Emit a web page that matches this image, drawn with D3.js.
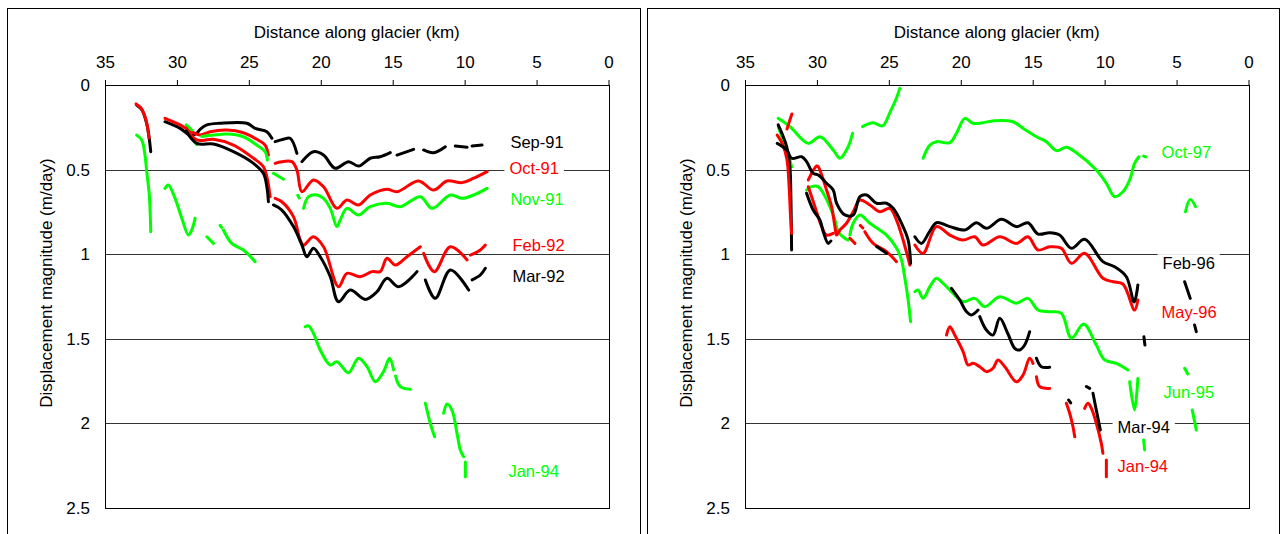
<!DOCTYPE html>
<html>
<head>
<meta charset="utf-8">
<script src="https://cdn.jsdelivr.net/npm/d3@7"></script>
<style>
  body { margin: 0; background: #fff; }
  text { font-family: "Liberation Sans", Arial, sans-serif; }
</style>
</head>
<body>
<script>
// axis ticks
var xTicks = [35, 30, 25, 20, 15, 10, 5, 0];
var yTicks = [0, 0.5, 1, 1.5, 2, 2.5];
var gridVals = [0.5, 1, 1.5, 2];

// left panel series: [km, m/day], null = gap
var sep91 = [[32.80,0.118],[32.43,0.148],[32.08,0.236],[31.82,0.394], null,
  [30.83,0.217],[29.78,0.256],[29.09,0.296],[28.62,0.285],[28.39,0.262],[27.92,0.236],[27.00,0.226],[25.14,0.226],[24.56,0.256],[23.75,0.276],[23.40,0.315], null,
  [23.17,0.335],[22.59,0.321],[22.13,0.315],[21.66,0.404], null,
  [21.31,0.453],[20.51,0.394],[19.81,0.414],[19.00,0.492],[18.07,0.453],[17.38,0.479],[16.56,0.433],[15.87,0.424],[15.17,0.400], null,
  [14.70,0.414],[13.55,0.380], null,
  [12.85,0.384],[12.16,0.400],[11.34,0.365], null,
  [10.65,0.361],[9.83,0.368], null,
  [9.48,0.361],[8.79,0.355]];
var oct91 = [[32.84,0.112],[32.50,0.136],[32.15,0.207],[31.94,0.313], null,
  [30.83,0.197],[29.78,0.236],[28.97,0.276],[28.39,0.296],[27.69,0.276],[26.53,0.266],[25.38,0.282],[24.45,0.321],[23.87,0.355],[23.64,0.414], null,
  [23.17,0.463],[22.71,0.453],[22.01,0.453],[21.66,0.502],[21.31,0.631],[20.51,0.561],[19.81,0.601],[18.88,0.729],[18.18,0.680],[17.38,0.709],[16.56,0.650],[15.40,0.616],[14.70,0.631],[13.20,0.567],[12.16,0.621],[11.22,0.567],[10.18,0.577],[9.37,0.551],[8.44,0.512]];
var nov91 = [[29.36,0.236],[28.97,0.266], null,
  [28.74,0.340],[28.62,0.352], null,
  [28.27,0.305],[27.46,0.296],[26.53,0.290],[25.38,0.306],[24.45,0.355],[23.87,0.394],[23.71,0.443], null,
  [23.29,0.522],[22.59,0.557], null,
  [21.60,0.652],[21.50,0.668], null,
  [21.20,0.729],[20.85,0.660],[20.27,0.650],[19.81,0.670],[19.34,0.729],[18.88,0.837],[18.65,0.798],[18.18,0.729],[17.38,0.768],[16.56,0.719],[15.40,0.699],[14.47,0.719],[13.08,0.660],[12.27,0.729],[10.99,0.650],[10.18,0.670],[9.37,0.650],[8.44,0.611]];
var feb92 = [[29.36,0.254],[28.62,0.325],[27.46,0.321],[26.07,0.355],[24.68,0.433],[23.99,0.483],[23.75,0.542],[23.52,0.660], null,
  [23.17,0.670],[22.71,0.690],[21.90,0.778],[21.43,0.916],[21.20,0.946],[20.51,0.897],[19.81,0.956],[18.77,1.192],[18.18,1.113],[17.26,1.133],[16.44,1.103],[15.87,1.103],[15.40,1.024],[14.82,1.064],[14.01,1.015],[13.08,0.956], null,
  [12.85,0.995],[12.11,1.103],[10.99,0.956],[9.83,1.034], null,
  [9.60,1.005],[8.91,0.975],[8.56,0.946]];
var mar92 = [[29.36,0.272],[28.62,0.345],[27.46,0.349],[26.07,0.394],[24.68,0.463],[23.99,0.522],[23.75,0.601],[23.64,0.690], null,
  [23.29,0.709],[22.71,0.739],[21.90,0.837],[21.31,0.946],[20.97,1.015],[20.51,0.965],[20.04,1.015],[19.34,1.133],[18.77,1.281],[17.95,1.212],[16.91,1.267],[16.10,1.222],[15.40,1.142],[14.59,1.192],[13.31,1.103], null,
  [12.73,1.152],[12.04,1.261],[10.99,1.093],[9.72,1.212], null,
  [9.48,1.152],[8.91,1.123],[8.56,1.083]];
var jan94L = [[32.80,0.296],[32.45,0.325],[32.22,0.414],[32.10,0.512],[31.92,0.650],[31.82,0.867], null,
  [30.83,0.611],[30.60,0.591],[30.13,0.670],[29.66,0.788],[29.20,0.887],[28.97,0.857],[28.74,0.788], null,
  [27.92,0.897],[27.46,0.936], null,
  [27.00,0.830],[26.90,0.842], null,
  [26.77,0.857],[26.19,0.936],[25.38,0.975],[24.56,1.044], null,
  [21.08,1.429],[20.85,1.424],[20.51,1.467],[20.04,1.566],[19.34,1.655],[18.88,1.635],[18.07,1.700],[17.38,1.615],[16.79,1.665],[16.21,1.754],[15.64,1.694],[15.22,1.615],[14.94,1.684], null,
  [14.80,1.720],[14.47,1.783],[13.78,1.798], null,
  [12.73,1.881],[12.39,1.999],[12.09,2.079], null,
  [11.46,1.940],[11.22,1.885],[10.88,1.921],[10.53,2.059],[10.30,2.157],[10.07,2.197], null,
  [9.95,2.228],[9.95,2.315]];

// right panel series
var oct97 = [[32.69,0.197],[31.88,0.246],[30.60,0.345],[29.79,0.306],[28.87,0.384],[28.40,0.433],[27.83,0.365],[27.52,0.285], null,
  [26.83,0.246],[26.09,0.223],[25.44,0.242],[24.93,0.163],[24.47,0.077],[24.24,0.020], null,
  [22.62,0.433],[22.15,0.355],[21.69,0.335],[20.76,0.341],[20.30,0.285],[19.72,0.197],[19.15,0.226],[18.68,0.226],[17.64,0.211],[16.37,0.217],[15.67,0.256],[14.74,0.306],[14.05,0.335],[13.35,0.388],[12.66,0.368],[11.97,0.400],[10.58,0.502],[9.88,0.581],[9.31,0.660],[8.73,0.631],[8.26,0.561],[7.92,0.463],[7.62,0.424], null,
  [7.29,0.420],[7.15,0.425], null,
  [4.38,0.749],[4.05,0.676],[3.68,0.719]];
var feb96 = [[32.76,0.345],[32.10,0.384],[31.76,0.433],[31.06,0.424],[30.72,0.453],[30.26,0.522],[29.91,0.532],[29.33,0.581],[28.87,0.621],[28.63,0.699],[28.06,0.768],[27.48,0.768],[27.01,0.660],[26.55,0.650],[25.85,0.699],[25.16,0.699],[24.70,0.729],[24.12,0.817],[23.66,0.916],[23.49,1.054], null,
  [23.19,0.897],[22.73,0.936],[22.15,0.863],[21.69,0.814],[20.76,0.837],[19.72,0.857],[18.91,0.814],[18.22,0.847],[17.17,0.794],[16.13,0.837],[15.33,0.814],[14.63,0.881],[13.82,0.873],[13.13,0.887],[12.31,0.965],[11.39,0.912],[10.12,1.044],[9.31,1.074],[8.49,1.133],[7.95,1.283],[7.69,1.182], null,
  [7.27,1.488],[7.20,1.537], null,
  [4.44,1.163],[4.05,1.261], null,
  [3.75,1.418],[3.63,1.458]];
var may96 = [[32.08,0.260],[31.88,0.207],[31.74,0.171], null,
  [32.76,0.296],[32.36,0.355],[32.08,0.443],[31.94,0.591],[31.84,0.768],[31.76,0.877], null,
  [30.60,0.561],[30.02,0.479],[29.91,0.483],[29.67,0.532],[29.33,0.621],[28.98,0.719],[28.75,0.837],[28.63,0.887],[28.40,0.857],[27.94,0.817],[27.48,0.749],[27.01,0.680],[26.32,0.709],[25.63,0.749],[24.93,0.729],[24.47,0.798],[24.01,0.916],[23.54,1.064], null,
  [23.19,0.946],[22.62,0.995],[21.69,0.837],[20.76,0.887],[19.84,0.916],[19.03,0.897],[18.45,0.946],[17.29,0.897],[16.13,0.936],[15.33,0.897],[14.63,0.975],[13.82,0.956],[13.01,0.965],[12.31,1.054],[11.39,0.995],[10.12,1.142],[9.42,1.163],[8.73,1.176],[7.92,1.330],[7.69,1.271]];
var jun95 = [[32.69,0.246],[32.36,0.325],[32.08,0.384],[31.88,0.443],[31.76,0.483], null,
  [30.72,0.621],[30.37,0.601],[29.91,0.601],[29.56,0.640],[29.10,0.719],[28.75,0.798],[28.52,0.867],[28.06,0.906],[27.83,0.916], null,
  [27.71,0.887],[27.48,0.817],[27.01,0.768],[26.32,0.817],[25.16,0.887],[24.47,0.963],[24.12,1.034],[23.89,1.141],[23.66,1.271],[23.49,1.399], null,
  [23.19,1.222],[22.97,1.212],[22.62,1.261],[22.15,1.192],[21.69,1.142],[21.34,1.163],[20.76,1.212],[19.84,1.281],[19.03,1.261],[18.33,1.310],[17.29,1.251],[16.13,1.290],[15.33,1.261],[14.63,1.330],[13.82,1.340],[13.01,1.349],[12.31,1.497],[11.46,1.413],[10.58,1.537],[10.00,1.625],[9.19,1.645],[8.38,1.684], null,
  [8.26,1.754],[7.92,1.921],[7.69,1.734], null,
  [7.29,2.098],[7.22,2.157], null,
  [4.44,1.674],[4.22,1.708], null,
  [3.91,1.921],[3.63,2.039]];
var mar94 = [[32.69,0.236],[32.34,0.306],[32.10,0.365],[31.88,0.483],[31.81,0.660],[31.76,0.975], null,
  [30.72,0.640],[30.26,0.739],[29.79,0.798],[29.56,0.867],[29.22,0.936],[29.03,0.922], null,
  [25.85,0.955],[25.16,0.995], null,
  [20.65,1.202],[20.07,1.271],[19.60,1.340],[19.26,1.359],[18.80,1.330], null,
  [18.68,1.369],[18.22,1.448],[17.76,1.478],[17.29,1.379],[16.74,1.467],[16.25,1.556],[15.90,1.566],[15.56,1.537],[15.21,1.458], null,
  [14.74,1.615],[14.40,1.665],[13.82,1.668], null,
  [12.50,1.862],[12.36,1.879], null,
  [11.27,1.782],[11.04,1.793], null,
  [10.81,1.822],[10.58,1.921],[10.30,2.039]];
var jan94R = [[30.60,0.601],[30.14,0.719],[29.67,0.837],[29.33,0.887],[28.87,0.877], null,
  [27.71,0.906],[27.36,0.936], null,
  [26.98,0.830],[26.81,0.845], null,
  [26.67,0.867],[26.09,0.936],[25.16,0.985],[24.47,1.044], null,
  [20.99,1.478],[20.76,1.429],[20.42,1.478],[19.84,1.576],[19.49,1.655],[19.15,1.645],[18.68,1.665],[18.22,1.694],[17.76,1.674],[17.41,1.625],[16.94,1.665],[16.13,1.754],[15.67,1.714],[15.21,1.615],[14.98,1.645], null,
  [14.74,1.724],[14.51,1.783],[13.82,1.793], null,
  [12.66,1.881],[12.43,1.940],[12.20,2.020],[12.08,2.079], null,
  [11.39,1.911],[11.16,1.881],[10.92,1.911],[10.58,1.999],[10.23,2.118],[10.12,2.177], null,
  [9.88,2.216],[9.88,2.315]];

var RED = "#ff0000", GREEN = "#00ff00", BLACK = "#000000";

var leftSeries = [
  {name: "Sep-91", data: sep91, color: BLACK},
  {name: "Oct-91", data: oct91, color: RED},
  {name: "Nov-91", data: nov91, color: GREEN},
  {name: "Feb-92", data: feb92, color: RED},
  {name: "Mar-92", data: mar92, color: BLACK},
  {name: "Jan-94", data: jan94L, color: GREEN}
];
var rightSeries = [
  {name: "Oct-97", data: oct97, color: GREEN},
  {name: "Jun-95", data: jun95, color: GREEN},
  {name: "Jan-94", data: jan94R, color: RED},
  {name: "Mar-94", data: mar94, color: BLACK},
  {name: "May-96", data: may96, color: RED},
  {name: "Feb-96", data: feb96, color: BLACK}
];

// where each series label sits (km, m/day)
var leftLabelPos = {"Sep-91": [6.82, 0.341], "Oct-91": [6.89, 0.492], "Nov-91": [6.82, 0.674],
  "Feb-92": [6.68, 0.946], "Mar-92": [6.68, 1.133], "Jan-94": [6.96, 2.285]};
var rightLabelPos = {"Oct-97": [6.04, 0.400], "Feb-96": [5.97, 1.054], "May-96": [6.04, 1.343],
  "Jun-95": [5.90, 1.813], "Mar-94": [9.10, 2.020], "Jan-94": [9.10, 2.256]};

var w = 1282, h = 534;
var svg = d3.select("body").append("svg")
  .attr("width", w)
  .attr("height", h);

// panel frames
svg.append("rect").attr("x", 7.5).attr("y", 8.5).attr("width", 633).attr("height", 540)
  .attr("fill", "none").attr("stroke", "#000");
svg.append("rect").attr("x", 647.5).attr("y", 8.5).attr("width", 632).attr("height", 540)
  .attr("fill", "none").attr("stroke", "#000");

function drawPanel(x0, series, labelPos) {
  var xScale = d3.scaleLinear().domain([35, 0]).range([x0, x0 + 503.5]);
  var yScale = d3.scaleLinear().domain([0, 2.5]).range([85, 508]);
  var g = svg.append("g");
  var left = Math.round(xScale(35)) + 0.5, right = Math.round(xScale(0)) + 0.5;

  // gridlines
  g.selectAll("line.grid")
    .data(gridVals)
    .enter()
    .append("line")
    .attr("class", "grid")
    .attr("x1", left).attr("x2", right)
    .attr("y1", function (d) { return Math.round(yScale(d)) + 0.5; })
    .attr("y2", function (d) { return Math.round(yScale(d)) + 0.5; })
    .attr("stroke", "#333")
    .attr("stroke-width", 1);

  // plot box
  g.append("rect")
    .attr("x", left).attr("y", Math.round(yScale(0)) + 0.5)
    .attr("width", right - left).attr("height", Math.round(yScale(2.5)) - Math.round(yScale(0)))
    .attr("fill", "none").attr("stroke", "#000");

  // top axis
  var xAxis = g.append("g")
    .attr("transform", "translate(0," + yScale(0) + ")")
    .call(d3.axisTop(xScale).tickValues(xTicks).tickSize(5).tickSizeOuter(0).tickPadding(12));
  xAxis.select(".domain").remove();
  xAxis.attr("font-size", 17).attr("font-family", "Liberation Sans, Arial, sans-serif");
  xAxis.selectAll("text").attr("fill", "#000");

  // left axis labels
  var yAxis = g.append("g")
    .attr("transform", "translate(" + xScale(35) + ",0)")
    .call(d3.axisLeft(yScale).tickValues(yTicks).tickSize(0).tickPadding(15).tickFormat(function (d) { return String(d); }));
  yAxis.select(".domain").remove();
  yAxis.attr("font-size", 17).attr("font-family", "Liberation Sans, Arial, sans-serif");
  yAxis.selectAll("text").attr("fill", "#000");

  // titles
  g.append("text")
    .attr("x", (xScale(35) + xScale(0)) / 2)
    .attr("y", 38)
    .attr("text-anchor", "middle")
    .attr("font-size", 17)
    .text("Distance along glacier (km)");
  g.append("text")
    .attr("transform", "translate(" + (x0 - 53) + ",283) rotate(-90)")
    .attr("text-anchor", "middle")
    .attr("font-size", 17)
    .text("Displacement magnitude (m/day)");

  // series lines
  var line = d3.line()
    .defined(function (d) { return d !== null; })
    .x(function (d) { return xScale(d[0]); })
    .y(function (d) { return yScale(d[1]); })
    .curve(d3.curveCatmullRom.alpha(0.5));

  g.selectAll("path.series")
    .data(series)
    .enter()
    .append("path")
    .attr("class", "series")
    .attr("d", function (d) { return line(d.data); })
    .attr("fill", "none")
    .attr("stroke", function (d) { return d.color; })
    .attr("stroke-width", 3)
    .attr("stroke-linejoin", "round")
    .attr("stroke-linecap", "round");

  // labels with white boxes
  series.forEach(function (s) {
    var p = labelPos[s.name];
    var lg = g.append("g");
    var t = lg.append("text")
      .attr("x", xScale(p[0]))
      .attr("y", yScale(p[1]))
      .attr("dy", "0.35em")
      .attr("font-size", 16.5)
      .attr("fill", s.color)
      .text(s.name);
    var bb = t.node().getBBox();
    lg.insert("rect", "text")
      .attr("x", bb.x - 5).attr("y", bb.y)
      .attr("width", bb.width + 10).attr("height", bb.height)
      .attr("fill", "#fff");
  });
}

drawPanel(105, leftSeries, leftLabelPos);
drawPanel(745, rightSeries, rightLabelPos);
</script>
</body>
</html>
